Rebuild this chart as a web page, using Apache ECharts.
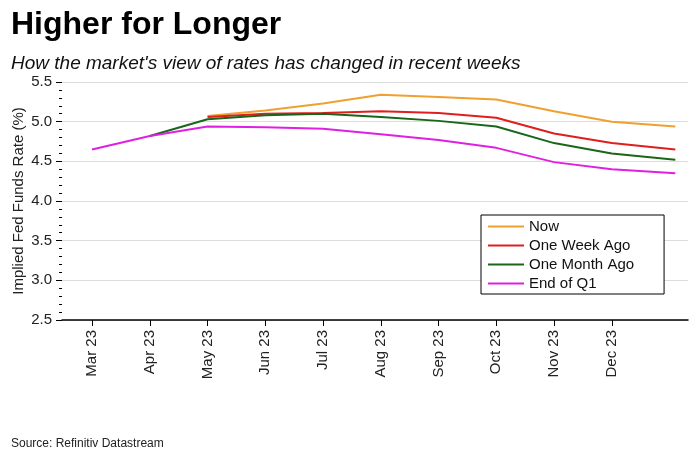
<!DOCTYPE html>
<html>
<head>
<meta charset="utf-8">
<script src="https://cdn.jsdelivr.net/npm/echarts@6/dist/echarts.min.js"></script>
<style>html,body{margin:0;padding:0;background:#fff}#c{width:700px;height:450px}</style>
</head>
<body>
<div id="c"></div>
<script>
// Month index positions (0 = Mar 23); last point is early Jan 24
const tickLabels = ['Mar 23','Apr 23','May 23','Jun 23','Jul 23','Aug 23','Sep 23','Oct 23','Nov 23','Dec 23'];
const xNow   = [2,3,4,5,6,7,8,9,10.1];
const now    = [5.07,5.14,5.23,5.34,5.31,5.28,5.13,5.00,4.94];
const xWeek  = [2,3,4,5,6,7,8,9,10.1];
const week   = [5.06,5.10,5.11,5.13,5.11,5.05,4.85,4.73,4.65];
const xMonth = [1,2,3,4,5,6,7,8,9,10.1];
const month  = [4.82,5.03,5.08,5.10,5.06,5.01,4.94,4.73,4.60,4.52];
const xQ1    = [0,1,2,3,4,5,6,7,8,9,10.1];
const q1     = [4.65,4.82,4.94,4.93,4.91,4.84,4.77,4.67,4.49,4.40,4.35];

const pair = (xs, ys) => xs.map((x, i) => [x, ys[i]]);
const chart = echarts.init(document.getElementById('c'), null, {renderer: 'canvas'});
const mk = (name, xs, ys, color) => ({
  name, type: 'line', data: pair(xs, ys), symbol: 'none', showSymbol: false,
  lineStyle: {color, width: 2}, itemStyle: {color}
});
const FF = 'Liberation Sans, Arial, sans-serif';
chart.setOption({
  animation: false,
  backgroundColor: '#fff',
  textStyle: {fontFamily: FF},
  title: [
    {text: 'Higher for Longer', left: 6, top: 4,
     textStyle: {fontSize: 32, fontWeight: 'bold', color: '#000', fontFamily: FF}},
    {text: "How the market's view of rates has changed in recent weeks", left: 6, top: 49,
     textStyle: {fontSize: 19, fontStyle: 'italic', fontWeight: 'normal', color: '#111', fontFamily: FF}},
    {text: 'Source: Refinitiv Datastream', left: 6, top: 433,
     textStyle: {fontSize: 12, fontWeight: 'normal', color: '#222', fontFamily: FF}}
  ],
  grid: {left: 62, right: 12, top: 82, bottom: 130, containLabel: false, outerBoundsMode: 'none'},
  legend: {
    orient: 'vertical', left: 481, top: 215,
    data: ['Now','One Week Ago','One Month Ago','End of Q1'],
    backgroundColor: '#fff', borderColor: '#000', borderWidth: 1,
    padding: [4, 30, 3, 6], itemGap: 4, itemWidth: 36, itemHeight: 14,
    itemStyle: {opacity: 0},
    textStyle: {fontSize: 15, color: '#111'}
  },
  xAxis: {
    type: 'value', min: -0.52, max: 10.32,
    axisLine: {show: true, onZero: false, lineStyle: {color: '#000', width: 1.5}},
    axisTick: {show: true, customValues: tickLabels.map((_, i) => i), length: 6, lineStyle: {color: '#000'}},
    axisLabel: {show: true, customValues: tickLabels.map((_, i) => i), rotate: 90, fontSize: 15, color: '#222', margin: 10,
      formatter: v => tickLabels[Math.round(v)] || ''},
    splitLine: {show: false}
  },
  yAxis: {
    type: 'value', min: 2.5, max: 5.5, interval: 0.5,
    name: 'Implied Fed Funds Rate (%)', nameLocation: 'middle', nameGap: 36, nameMoveOverlap: false,
    nameTextStyle: {fontSize: 15, color: '#222'},
    axisLine: {show: false, onZero: false},
    axisTick: {show: true, length: 6, lineStyle: {color: '#000'}},
    minorTick: {show: true, splitNumber: 5, length: 3, lineStyle: {color: '#000'}},
    axisLabel: {fontSize: 15, color: '#222', margin: 10, formatter: v => v.toFixed(1)},
    splitLine: {show: true, lineStyle: {color: '#dcdcdc', width: 1}}
  },
  series: [
    mk('Now', xNow, now, '#F0A030'),
    mk('One Week Ago', xWeek, week, '#E01E1E'),
    mk('One Month Ago', xMonth, month, '#196619'),
    mk('End of Q1', xQ1, q1, '#E020E0')
  ]
});
</script>
</body>
</html>
